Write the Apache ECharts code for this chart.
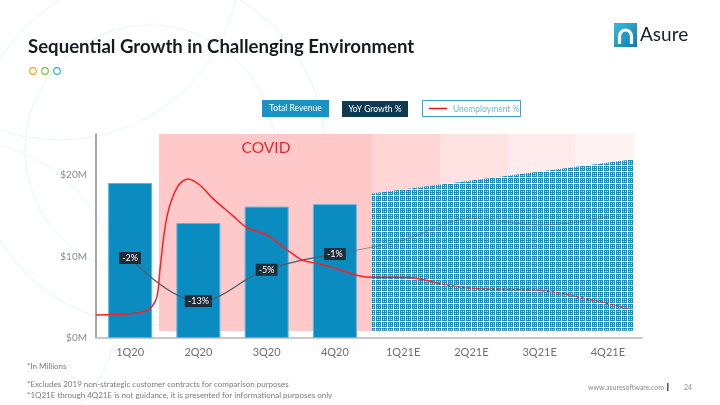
<!DOCTYPE html>
<html>
<head>
<meta charset="utf-8">
<script src="https://cdn.jsdelivr.net/npm/echarts@6/dist/echarts.min.js"></script>
<style>
html,body{margin:0;padding:0;background:#fff;}
#chart{width:720px;height:405px;}
</style>
</head>
<body>
<div id="chart"></div>
<script>
// ---- data ----
const categories = ['1Q20', '2Q20', '3Q20', '4Q20', '1Q21E', '2Q21E', '3Q21E', '4Q21E'];
const revenueM = [19.0, 14.1, 16.1, 16.4, null, null, null, null];
const yoyGrowth = [-2, -13, -5, -1, null, null, null, null];
const yoyForecast = [null, null, null, -1, 2.6, 8.2, 6.4, 8.5];
// unemployment % readings: [quarter position, value]
const unemploymentActual = [[0, 3.5], [0.5, 3.6], [0.72, 3.8], [0.82, 4.2], [0.894, 5.0], [0.94, 7.4], [1.04, 11.6], [1.19, 14.0], [1.35, 14.7], [1.52, 14.2], [1.71, 13.1], [2.0, 11.7], [2.21, 10.7], [2.5, 10.1], [2.65, 9.5], [2.84, 8.7], [3.03, 8.0], [3.28, 7.7], [3.58, 7.2], [3.87, 6.7], [4.06, 6.6], [4.5, 6.6], [4.75, 6.45], [5.0, 6.1]];
const unemploymentForecast = [[5.0, 6.1], [5.49, 5.7], [5.96, 5.6], [6.4, 5.55], [6.8, 5.3], [7.19, 4.8], [7.53, 4.4], [7.79, 4.0]];
// forecast revenue range (hatched): [quarter position, low, high]
const forecastRange = [[4.044, 0.9, 17.7], [7.88, 0.9, 21.9]];
// shaded periods: [start, end, low, high]
const covidPeriod = [[0.923, 4.044, 0.86, 25]];
const forecastPeriods = [[4.044, 5.04, 0.86, 25], [5.04, 6.04, 0.86, 25], [6.04, 7.03, 0.86, 25], [7.03, 7.88, 0.86, 25]];
const yTicks = [0, 10, 20];

// ---- styles ----
const periodColors = ['#FFD5D5', '#FFE2E2', '#FFEBEB', '#FFF3F3'];
const BLUE = '#0A8CC0';

function makeTile() {
  const rows = [
    'BBBWBB',
    'BWBWBW',
    'BBBWBB',
    'WWWWWW',
    'BBBWBB',
    'BWBWBW'
  ];
  const c = document.createElement('canvas');
  c.width = 6; c.height = 6;
  const g = c.getContext('2d');
  g.fillStyle = '#ffffff'; g.fillRect(0, 0, 6, 6);
  g.fillStyle = '#118FC3';
  rows.forEach((r, y) => { for (let x = 0; x < 6; x++) if (r[x] === 'B') g.fillRect(x, y, 1, 1); });
  return c;
}
const tile = makeTile();

const chart = echarts.init(document.getElementById('chart'), null, {renderer: 'canvas'});

function rectRender(colors) {
  return function (params, api) {
    const p0 = api.coord([api.value(0), api.value(3)]);
    const p1 = api.coord([api.value(1), api.value(2)]);
    return {
      type: 'rect',
      shape: {x: p0[0], y: p0[1], width: p1[0] - p0[0], height: p1[1] - p0[1]},
      style: {fill: colors[params.dataIndex % colors.length]}
    };
  };
}

const font = 'Lato, "Open Sans", sans-serif';

const option = {
  animation: false,
  grid: {left: 96, right: 78, top: 134, bottom: 67, containLabel: false},
  xAxis: [
    {
      type: 'category', data: categories, boundaryGap: true,
      axisLine: {lineStyle: {color: '#C9C9C9', width: 2}},
      axisTick: {show: false},
      axisLabel: {color: '#6f6f6f', fontSize: 11, fontFamily: font, margin: 9}
    },
    {type: 'value', min: 0, max: 8, show: false}
  ],
  yAxis: [
    {
      type: 'value', min: 0, max: 25, interval: 10,
      axisLine: {show: true, lineStyle: {color: '#8a8a8a', width: 1.5}},
      axisTick: {show: false},
      splitLine: {show: false},
      axisLabel: {
        color: '#8a8a8a', fontSize: 10, fontFamily: font, margin: 9, showMaxLabel: false,
        formatter: v => (yTicks.indexOf(v) >= 0 ? '$' + v + 'M' : '')
      }
    },
    {type: 'value', min: 1.6, max: 18.4, show: false},
    {type: 'value', min: -22.45, max: 29.7, show: false}
  ],
  series: [
    {
      type: 'custom', xAxisIndex: 1, yAxisIndex: 0, z: 1, silent: true,
      renderItem: rectRender(['#FFC9C9']),
      encode: {x: [0, 1], y: [2, 3]},
      data: covidPeriod
    },
    {
      type: 'custom', xAxisIndex: 1, yAxisIndex: 0, z: 1, silent: true,
      renderItem: rectRender(periodColors),
      encode: {x: [0, 1], y: [2, 3]},
      data: forecastPeriods
    },
    {
      type: 'bar', xAxisIndex: 0, yAxisIndex: 0, z: 3,
      barWidth: 44,
      itemStyle: {color: BLUE, borderColor: '#5DB6DD', borderWidth: 1},
      data: revenueM
    },
    {
      type: 'custom', xAxisIndex: 1, yAxisIndex: 0, z: 4, silent: true,
      renderItem: function (params, api) {
        if (params.dataIndex !== 0) return null;
        const a = forecastRange[0], b = forecastRange[1];
        const pts = [api.coord([a[0], a[1]]), api.coord([a[0], a[2]]), api.coord([b[0], b[2]]), api.coord([b[0], b[1]])];
        return {type: 'polygon', shape: {points: pts}, style: {fill: {image: tile, repeat: 'repeat'}}};
      },
      encode: {x: 0, y: [1, 2]},
      data: forecastRange
    },
    {
      type: 'line', xAxisIndex: 0, yAxisIndex: 2, z: 5, smooth: 0.35,
      symbol: 'none',
      lineStyle: {color: 'rgba(85,105,125,0.6)', width: 1.2},
      data: yoyForecast
    },
    {
      type: 'line', xAxisIndex: 0, yAxisIndex: 2, z: 6, smooth: 0.4,
      symbol: 'circle', symbolSize: 1, showSymbol: true,
      lineStyle: {color: '#4E5D70', width: 1.3},
      itemStyle: {color: '#4E5D70'},
      label: {
        show: true, position: 'inside', formatter: p => p.value + '%',
        color: '#ffffff', backgroundColor: '#1F2C3A', fontSize: 9, fontFamily: font,
        padding: [2, 3, 1, 3]
      },
      data: yoyGrowth
    },
    {
      type: 'line', xAxisIndex: 1, yAxisIndex: 1, z: 7, smooth: 0.35,
      symbol: 'none',
      lineStyle: {color: '#FF1F1F', width: 1.5},
      data: unemploymentActual
    },
    {
      type: 'line', xAxisIndex: 1, yAxisIndex: 1, z: 7, smooth: 0.35,
      symbol: 'none',
      lineStyle: {color: '#FF1F1F', width: 1.5, type: [3, 2]},
      data: unemploymentForecast
    }
  ],
  graphic: [
    // background decorative arcs
    {type: 'circle', z: -10, silent: true, shape: {cx: 150, cy: 150, r: 175}, style: {fill: 'none', stroke: '#E6F2F8', lineWidth: 1}},
    {type: 'circle', z: -10, silent: true, shape: {cx: 150, cy: 150, r: 125}, style: {fill: 'none', stroke: '#E9F4F9', lineWidth: 1}},
    {type: 'circle', z: -10, silent: true, shape: {cx: -40, cy: 300, r: 160}, style: {fill: 'none', stroke: '#E9F4F9', lineWidth: 1}},
    {type: 'circle', z: -10, silent: true, shape: {cx: 60, cy: -40, r: 180}, style: {fill: 'none', stroke: '#EAF4F9', lineWidth: 1}},
    // title
    {type: 'text', x: 28, y: 47, style: {text: 'Sequential Growth in Challenging Environment', fill: '#161b22', font: 'bold 18.6px ' + font, verticalAlign: 'middle'}},
    {type: 'circle', shape: {cx: 33, cy: 71, r: 3.3}, style: {fill: 'none', stroke: '#F5A623', lineWidth: 1.2}},
    {type: 'circle', shape: {cx: 45, cy: 71, r: 3.3}, style: {fill: 'none', stroke: '#7DC242', lineWidth: 1.2}},
    {type: 'circle', shape: {cx: 57, cy: 71, r: 3.3}, style: {fill: 'none', stroke: '#2CB5D8', lineWidth: 1.2}},
    // logo
    {type: 'rect', shape: {x: 614, y: 23, width: 23, height: 24}, style: {fill: new echarts.graphic.LinearGradient(0, 0, 1, 1, [{offset: 0, color: '#3BBCE0'}, {offset: 1, color: '#1478A8'}])}},
    {type: 'arc', shape: {cx: 625.5, cy: 36, r: 6, startAngle: Math.PI, endAngle: Math.PI * 2, clockwise: true}, style: {fill: 'none', stroke: '#ffffff', lineWidth: 3.2}},
    {type: 'line', shape: {x1: 619.5, y1: 36, x2: 619.5, y2: 44}, style: {stroke: '#ffffff', lineWidth: 3.2}},
    {type: 'line', shape: {x1: 631.5, y1: 36, x2: 631.5, y2: 44}, style: {stroke: '#ffffff', lineWidth: 3.2}},
    {type: 'text', x: 640, y: 35, style: {text: 'Asure', fill: '#1b1d2a', font: '19px ' + font, verticalAlign: 'middle'}},
    // legend
    {type: 'rect', shape: {x: 262, y: 100, width: 67, height: 17}, style: {fill: '#1A93C4'}},
    {type: 'text', x: 295.5, y: 108.5, style: {text: 'Total Revenue', fill: '#ffffff', font: '8.5px ' + font, align: 'center', verticalAlign: 'middle'}},
    {type: 'rect', shape: {x: 342, y: 101, width: 66, height: 16}, style: {fill: '#0E3B52'}},
    {type: 'text', x: 375, y: 109, style: {text: 'YoY Growth %', fill: '#ffffff', font: '8.5px ' + font, align: 'center', verticalAlign: 'middle'}},
    {type: 'rect', shape: {x: 422.5, y: 100.5, width: 98, height: 16}, style: {fill: '#ffffff', stroke: '#3BA0D0', lineWidth: 1}},
    {type: 'line', shape: {x1: 429, y1: 108.5, x2: 447, y2: 108.5}, style: {stroke: '#E8101A', lineWidth: 1.5}},
    {type: 'text', x: 453, y: 109, style: {text: 'Unemployment %', fill: '#6FB8DB', font: '8.5px ' + font, verticalAlign: 'middle'}},
    // COVID label
    {type: 'text', x: 266, y: 148, z: 10, style: {text: 'COVID', fill: '#E3262E', font: '15.5px ' + font, align: 'center', verticalAlign: 'middle'}},
    // footnotes
    {type: 'text', x: 27, y: 366, style: {text: '*In Millions', fill: '#7a7a7a', font: '8px ' + font, verticalAlign: 'middle'}},
    {type: 'text', x: 27, y: 384, style: {text: '*Excludes 2019 non-strategic customer contracts for comparison purposes', fill: '#7a7a7a', font: '8px ' + font, verticalAlign: 'middle'}},
    {type: 'text', x: 27, y: 395, style: {text: '*1Q21E through 4Q21E is not guidance, it is presented for informational purposes only', fill: '#7a7a7a', font: '8px ' + font, verticalAlign: 'middle'}},
    {type: 'text', x: 664, y: 388, style: {text: 'www.asuresoftware.com', fill: '#8a8a8a', font: '7px ' + font, align: 'right', verticalAlign: 'middle'}},
    {type: 'rect', shape: {x: 667, y: 383, width: 1.5, height: 8}, style: {fill: '#555'}},
    {type: 'text', x: 684, y: 388, style: {text: '24', fill: '#8a8a8a', font: '7px ' + font, verticalAlign: 'middle'}}
  ]
};
chart.setOption(option);
</script>
</body>
</html>
